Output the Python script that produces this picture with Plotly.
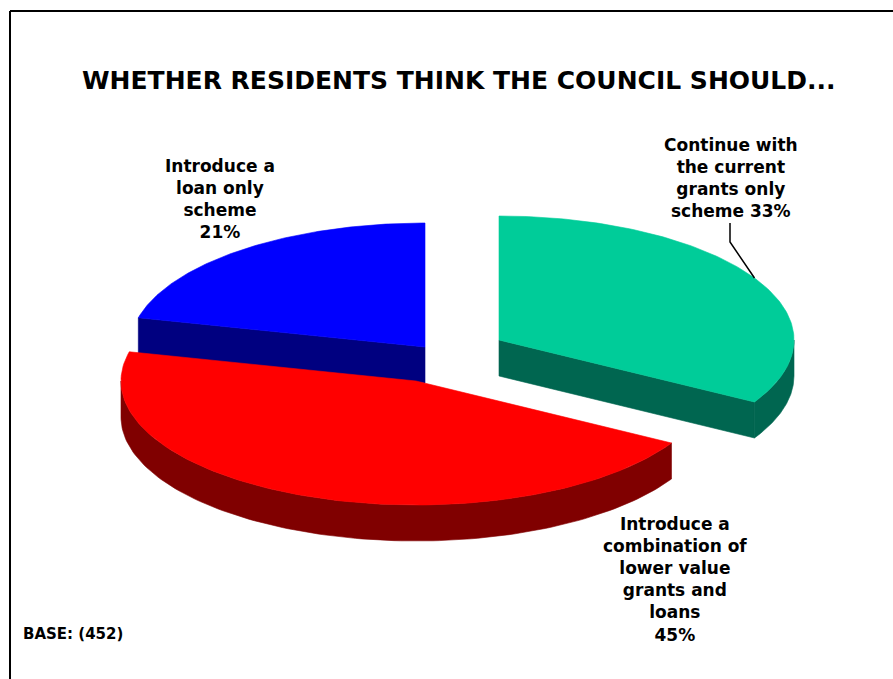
import numpy as np
import plotly.graph_objects as go

# ---- data ----
categories = ["Introduce a loan only scheme",
              "Introduce a combination of lower value grants and loans",
              "Continue with the current grants only scheme"]
values = [21, 45, 33]
label_texts = ["Introduce a<br>loan only<br>scheme<br>21%",
               "Introduce a<br>combination of<br>lower value<br>grants and<br>loans<br>45%",
               "Continue with<br>the current<br>grants only<br>scheme 33%"]
title_text = "WHETHER RESIDENTS THINK THE COUNCIL SHOULD..."
base_text = "BASE: (452)"

# ---- style / layout ----
W, H = 893, 679
top_colors = ["#0000FF", "#FF0000", "#00CC99"]
side_colors = ["#000080", "#800000", "#006650"]
vertices = [(425, 347), (416, 381), (499, 340)]   # exploded slice apexes (px)
A, B, DEPTH = 295, 124, 36
FONT = "Verdana, DejaVu Sans, sans-serif"

total = float(sum(values))
angles = []
start = 90.0
for v in values:
    span = 360.0 * v / total
    angles.append((start, start + span))
    start += span


def rim(vx, vy, th_deg, dz=0.0):
    t = np.radians(th_deg)
    return vx + A * np.cos(t), vy - B * np.sin(t) + dz


def arc(vx, vy, t0, t1, dz=0.0, n=120):
    ts = np.linspace(t0, t1, n)
    xs, ys = rim(vx, vy, ts, dz)
    return list(xs), list(ys)


fig = go.Figure()


def poly(xs, ys, color):
    fig.add_trace(go.Scatter(x=xs, y=ys, mode="lines", fill="toself",
                             fillcolor=color, line=dict(width=0.6, color=color),
                             hoverinfo="skip", showlegend=False))


order = [0, 2, 1]  # back to front
for i in order:
    vx, vy = vertices[i]
    t0, t1 = angles[i]
    # radial faces
    for t, normal in ((t0, t0 - 90), (t1, t1 + 90)):
        if np.sin(np.radians(normal)) < -1e-6:
            rx, ry = rim(vx, vy, t)
            rbx, rby = rim(vx, vy, t, DEPTH)
            poly([vx, rx, rbx, vx, vx], [vy, ry, rby, vy + DEPTH, vy], side_colors[i])
    # outer rim (front half visible: 180..360 deg)
    for k in (-1, 0, 1):
        lo = max(t0, 180 + 360 * k)
        hi = min(t1, 360 + 360 * k)
        if hi > lo:
            xs, ys = arc(vx, vy, lo, hi)
            xb, yb = arc(vx, vy, lo, hi, DEPTH)
            poly(xs + xb[::-1] + [xs[0]], ys + yb[::-1] + [ys[0]], side_colors[i])
    # top face
    xs, ys = arc(vx, vy, t0, t1)
    poly([vx] + xs + [vx], [vy] + ys + [vy], top_colors[i])

# leader line for green label
gx, gy = vertices[2]
ax_, ay_ = rim(gx, gy, 30)
fig.add_trace(go.Scatter(x=[730, 730, ax_], y=[223, 242, ay_], mode="lines",
                         line=dict(color="black", width=1.5),
                         hoverinfo="skip", showlegend=False))

annotations = [
    dict(x=459, y=80, text="<b>" + title_text + "</b>", font=dict(size=25)),
    dict(x=220, y=199, text="<b>" + label_texts[0] + "</b>", font=dict(size=17)),
    dict(x=675, y=579, text="<b>" + label_texts[1] + "</b>", font=dict(size=17)),
    dict(x=731, y=178, text="<b>" + label_texts[2] + "</b>", font=dict(size=17)),
    dict(x=21, y=634, text="<b>" + base_text + "</b>", font=dict(size=15), xanchor="left"),
]
for a in annotations:
    a.setdefault("xanchor", "center")
    a.update(xref="x", yref="y", showarrow=False, yanchor="middle", align="center")
    a["font"].update(family=FONT, color="black")

fig.update_layout(
    width=W, height=H, margin=dict(l=0, r=0, t=0, b=0),
    paper_bgcolor="white", plot_bgcolor="white",
    xaxis=dict(range=[0, W], visible=False, fixedrange=True),
    yaxis=dict(range=[H, 0], visible=False, fixedrange=True),
    annotations=annotations,
    shapes=[
        dict(type="line", xref="x", yref="y", x0=10, y0=11, x1=W, y1=11,
             line=dict(color="black", width=2)),
        dict(type="line", xref="x", yref="y", x0=10, y0=11, x1=10, y1=H,
             line=dict(color="black", width=2)),
    ],
)

fig.write_html("out.html")
